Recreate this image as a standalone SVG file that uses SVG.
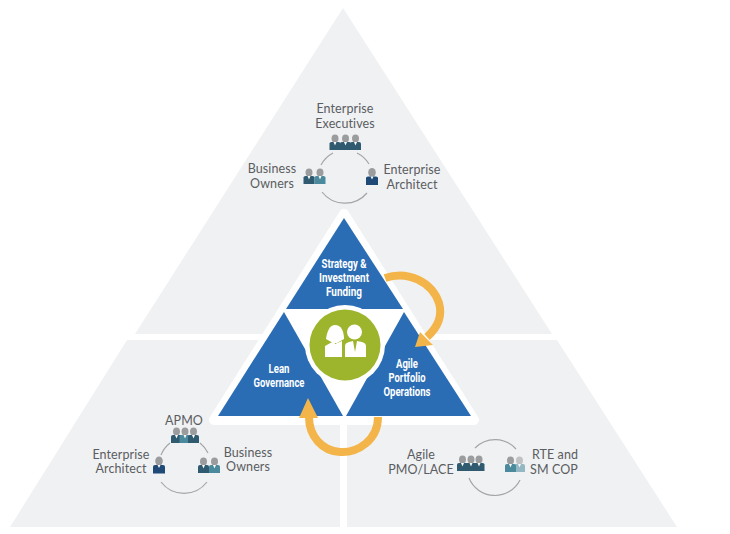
<svg xmlns="http://www.w3.org/2000/svg" width="730" height="534" viewBox="0 0 730 534">
<style>
.t{font-family:Lato,"Open Sans","Liberation Sans",sans-serif;font-size:12.5px;letter-spacing:.1px;fill:#5a5d61;text-anchor:middle}
.b{font-family:"Liberation Sans Narrow",Roboto,"Liberation Sans",sans-serif;font-size:12px;font-weight:700;fill:#fff;text-anchor:middle}
.a{fill:none;stroke:#a3a5a8;stroke-width:1.2}
.h{fill:#9b9c9e}
.o{fill:none;stroke:#f3b54a;stroke-width:8}
.ar{fill:#f3b54a}
.w{fill:#fff}
</style>
<defs>
<g id="p1"><ellipse class="h" cx="5.500" cy="-3.500" rx="3.500" ry="4"/><path fill="#2f5a70" d="M0,8V1.500Q0,0 2,0H9Q11,0 11,1.500V8Z"/><path fill="#fff" d="M4,0H7L5.500,3.500Z"/></g>
<g id="p2"><ellipse class="h" cx="5.500" cy="-3.500" rx="3.500" ry="4"/><path fill="#4a8a9c" d="M0,8V1.500Q0,0 2,0H9Q11,0 11,1.500V8Z"/><path fill="#fff" d="M4,0H7L5.500,3.500Z"/></g>
<g id="p3"><ellipse class="h" cx="6" cy="-4" rx="3.800" ry="4.500"/><path fill="#1f4a78" d="M0,8.500V1.500Q0,0 2,0H10Q12,0 12,1.500V8.500Z"/><path fill="#fff" d="M4.500,0H7.500L6,3Z"/></g>
</defs>
<g id="quadrants">
<polygon id="top-quadrant" fill="#f0f1f3" points="343,8 552,334 135,334"/>
<polygon id="left-quadrant" fill="#f0f1f3" points="127,340 340,340 340,527 10,527"/>
<polygon id="right-quadrant" fill="#f0f1f3" points="347,340 557,340 677,527 347,527"/>
</g>
<g id="core">
<polygon fill="#fff" stroke="#fff" stroke-width="10" stroke-linejoin="round" points="344,214 474,420 214,420"/>
</g>
<g id="strategy-funding">
<polygon fill="#2a6db5" points="344,218 403,309 286,309"/>
<text class="b"><tspan x="344" y="268" textLength="45" lengthAdjust="spacingAndGlyphs">Strategy &amp;</tspan><tspan x="344" y="282" textLength="50" lengthAdjust="spacingAndGlyphs">Investment</tspan><tspan x="344" y="296" textLength="36" lengthAdjust="spacingAndGlyphs">Funding</tspan></text>
</g>
<g id="lean-governance">
<polygon fill="#2a6db5" points="284,312 343,416 218,416"/>
</g>
<g id="agile-portfolio">
<polygon fill="#2a6db5" points="404,312 471,416 346,416"/>
</g>
<g id="connectors">
<path class="o" d="M385,278C408,270 432,282 439,303C443,317 437,328 427,337"/>
<polygon class="ar" points="415,347 420,332 433,345"/>
<path class="o" d="M378,417C378,440 358,453 340,452C322,451 309,436 309,417"/>
<polygon class="ar" points="308,398 299,418 318,418"/>
</g>
<g id="hub">
<circle class="w" cx="345" cy="345" r="40"/>
<circle fill="#9db52c" cx="345" cy="345" r="35.500"/>
<path class="w" d="M325,357V346L334,341L335,344L342,341V357Z"/>
<path class="w" d="M326,339C327,331 330,325 335,325C341,325 344,331 344,339L337,343H333Z"/>
<circle class="w" cx="354.500" cy="332" r="7.500"/>
<path class="w" d="M345,357V346Q345,343 349,342L353,341L355,352L357,341L362,342Q366,343 366,346V357Z"/>
</g>
<g id="labels-core">
<text class="b"><tspan x="279" y="373" textLength="21" lengthAdjust="spacingAndGlyphs">Lean</tspan><tspan x="279" y="387" textLength="51" lengthAdjust="spacingAndGlyphs">Governance</tspan></text>
<text class="b"><tspan x="407" y="368" textLength="22" lengthAdjust="spacingAndGlyphs">Agile</tspan><tspan x="407" y="382" textLength="37" lengthAdjust="spacingAndGlyphs">Portfolio</tspan><tspan x="407" y="396" textLength="47" lengthAdjust="spacingAndGlyphs">Operations</tspan></text>
</g>
<g id="top-group">
<path class="a" d="M321,165A29,29 0 0 1 333,153M357,153A29,29 0 0 1 369,164M322,192A29,29 0 0 0 367,193"/>
<text class="t"><tspan x="345" y="113">Enterprise</tspan><tspan x="345" y="128">Executives</tspan></text>
<use href="#p1" x="329.500" y="142"/><use href="#p1" x="340" y="142"/><use href="#p1" x="350" y="142"/>
<text class="t"><tspan x="272" y="173">Business</tspan><tspan x="272" y="188">Owners</tspan></text>
<use href="#p1" x="303.500" y="176"/><use href="#p2" x="314.500" y="176"/>
<text class="t"><tspan x="412" y="174">Enterprise</tspan><tspan x="412" y="189">Architect</tspan></text>
<use href="#p3" x="366" y="176.500"/>
</g>
<g id="left-group">
<path class="a" d="M161,455A29,29 0 0 1 170,443M200,443A29,29 0 0 1 208,453M161,482A29,29 0 0 0 207,482"/>
<text class="t" x="184" y="425">APMO</text>
<use href="#p1" x="171" y="435"/><use href="#p2" x="179.500" y="435"/><use href="#p1" x="188" y="435"/>
<text class="t"><tspan x="121" y="459">Enterprise</tspan><tspan x="121" y="473">Architect</tspan></text>
<use href="#p3" x="153" y="465"/>
<text class="t"><tspan x="248" y="457">Business</tspan><tspan x="248" y="471">Owners</tspan></text>
<use href="#p1" x="198" y="465"/><use href="#p2" x="209" y="465"/>
</g>
<g id="right-group">
<path class="a" d="M475,448A28,28 0 0 1 516,449M469,478A28,28 0 0 0 520,480"/>
<text class="t"><tspan x="421" y="459">Agile</tspan><tspan x="421" y="474">PMO/LACE</tspan></text>
<use href="#p1" x="457" y="463"/><use href="#p1" x="465.500" y="463"/><use href="#p1" x="473.500" y="463"/>
<text class="t"><tspan x="555" y="459">RTE and</tspan><tspan x="554" y="474">SM COP</tspan></text>
<use href="#p2" x="505" y="464"/><use href="#p2" x="514" y="464" opacity=".55"/>
</g>
</svg>
